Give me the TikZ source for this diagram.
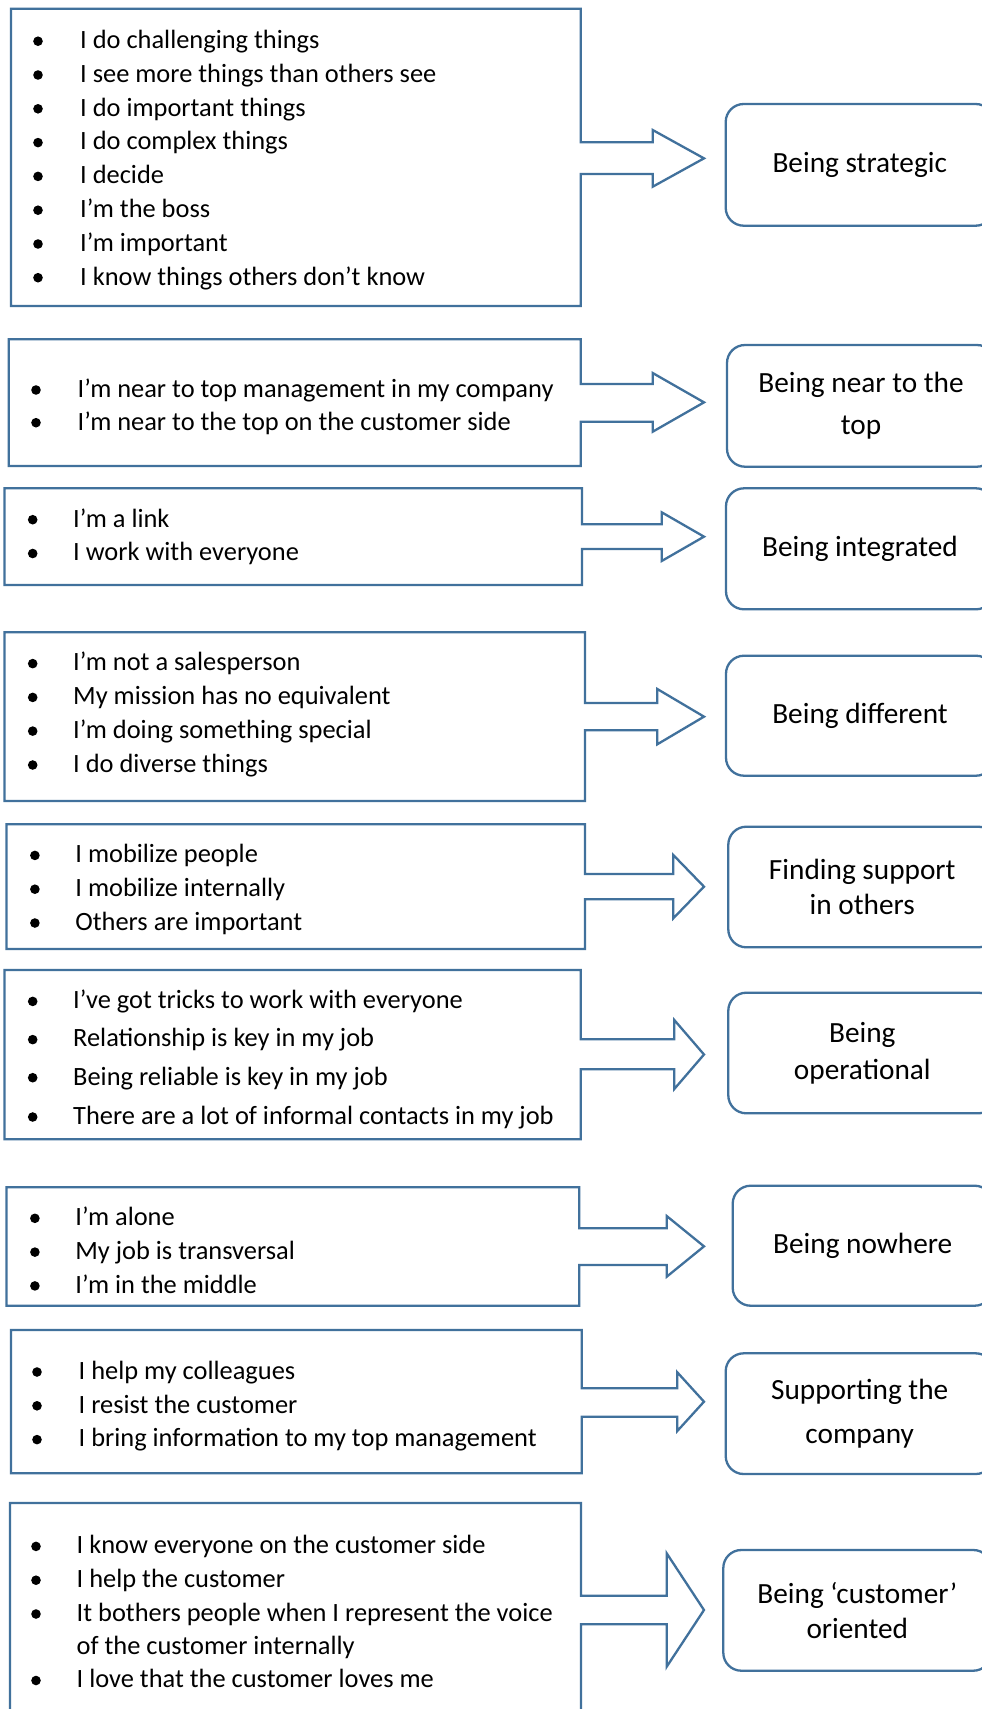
\documentclass[tikz,border=0pt]{standalone}
\usepackage{fontspec}
\setmainfont{Carlito}
\definecolor{frame}{RGB}{65,113,156}
\tikzset{
  callout/.style={draw=frame, line width=2.3pt, line join=miter},
  resultbox/.style={draw=frame, line width=2.3pt, rounded corners=18pt, minimum width=268pt, align=center, inner sep=0pt},
  itemtext/.style={anchor=base west, inner sep=0pt, font=\fontsize{26.4}{33.8}\selectfont},
  dot/.style={fill=black, circle, inner sep=0pt, minimum size=9.6pt},
}
% L T R B shaftTop shaftBottom headBaseX headTop headBottom ; tip at x=704, y=(headTop+headBottom)/2
\newcommand\calloutshape[9]{%
  \draw[callout] (#1,#2) -- (#3,#2) -- (#3,#5) -- (#7,#5) -- (#7,#8) -- (704,{(#8+#9)/2}) -- (#7,#9) -- (#7,#6) -- (#3,#6) -- (#3,#4) -- (#1,#4) -- cycle;}
\newcommand\itm[5]{%
  \node[dot] (#1b) at (#2,#4+2) {};
  \node[itemtext] (#1) at (#3,#4+9.3) {#5};}
\begin{document}
\begin{tikzpicture}[x=1pt,y=-1pt]
\useasboundingbox (0,0) rectangle (982,1709);
\fill[white] (0,0) rectangle (982,1709);
\clip (0,0) rectangle (982,1709);

% ---- 1
\calloutshape{10.9}{8.7}{580.7}{306}{142.3}{174}{652.7}{130}{186.7}
\itm{a1}{38}{80}{39.2}{I do challenging things}
\itm{a2}{38}{80}{73}{I see more things than others see}
\itm{a3}{38}{80}{106.8}{I do important things}
\itm{a4}{38}{80}{140.6}{I do complex things}
\itm{a5}{38}{80}{174.4}{I decide}
\itm{a6}{38}{80}{208.2}{I’m the boss}
\itm{a7}{38}{80}{242}{I’m important}
\itm{a8}{38}{80}{275.7}{I know things others don’t know}
\node[resultbox, minimum height=121.7pt, font=\fontsize{29.3}{36}\selectfont] (r1) at (859.7,164.85) {Being strategic};

% ---- 2
\calloutshape{8.7}{339.3}{580.7}{466}{384}{421.7}{652.7}{373}{431.7}
\itm{b1}{36}{77.4}{388}{I’m near to top management in my company}
\itm{b2}{36}{77.4}{420.7}{I’m near to the top on the customer side}
\node[resultbox, minimum height=121.7pt, font=\fontsize{29.3}{42.5}\selectfont] (r2) at (861,405.85) {Being near to the\\top};

% ---- 3
\calloutshape{4.4}{488.3}{582}{585}{524.3}{549}{661.7}{512.3}{561}
\itm{c1}{32.7}{73}{517.7}{I’m a link}
\itm{c2}{32.7}{73}{551.5}{I work with everyone}
\node[resultbox, minimum height=121pt, font=\fontsize{29.3}{36}\selectfont] (r3) at (860,548.8) {Being integrated};

% ---- 4
\calloutshape{4.4}{632.3}{585}{801}{703}{730.3}{657.3}{689}{744.3}
\itm{d1}{32.7}{73}{661.6}{I’m not a salesperson}
\itm{d2}{32.7}{73}{695.4}{My mission has no equivalent}
\itm{d3}{32.7}{73}{729.1}{I’m doing something special}
\itm{d4}{32.7}{73}{763}{I do diverse things}
\node[resultbox, minimum height=120pt, font=\fontsize{29.3}{36}\selectfont] (r4) at (860,715.7) {Being different};

% ---- 5
\calloutshape{6.5}{824.3}{585}{949}{874}{899.3}{673.3}{855}{918.3}
\itm{e1}{34.9}{75.2}{853.4}{I mobilize people}
\itm{e2}{34.9}{75.2}{887.2}{I mobilize internally}
\itm{e3}{34.9}{75.2}{921}{Others are important}
\node[resultbox, minimum height=120.6pt, font=\fontsize{29.3}{35.3}\selectfont] (r5) at (862.3,887) {Finding support\\in others};

% ---- 6
\calloutshape{4.4}{970}{580.7}{1139.3}{1039.3}{1069.3}{674.3}{1020}{1089}
\itm{f1}{32.7}{73}{999.4}{I’ve got tricks to work with everyone}
\itm{f2}{32.7}{73}{1037.6}{Relationship is key in my job}
\itm{f3}{32.7}{73}{1075.7}{Being reliable is key in my job}
\itm{f4}{32.7}{73}{1115}{There are a lot of informal contacts in my job}
\node[resultbox, minimum height=120.6pt, font=\fontsize{29.3}{36.7}\selectfont] (r6) at (862.3,1053) {Being\\operational};

% ---- 7
\calloutshape{6.5}{1187.3}{579.3}{1305.7}{1228.3}{1265}{666.7}{1216}{1276.7}
\itm{g1}{34.9}{75.2}{1216.3}{I’m alone}
\itm{g2}{34.9}{75.2}{1250.1}{My job is transversal}
\itm{g3}{34.9}{75.2}{1283.9}{I’m in the middle}
\node[resultbox, minimum width=260pt, minimum height=120pt, font=\fontsize{29.3}{36}\selectfont] (r7) at (862.7,1245.7) {Being nowhere};

% ---- 8
\calloutshape{10.9}{1330}{581.7}{1473.3}{1388.3}{1416.7}{677.3}{1372.3}{1431}
\itm{h1}{37}{78.5}{1370}{I help my colleagues}
\itm{h2}{37}{78.5}{1403.8}{I resist the customer}
\itm{h3}{37}{78.5}{1437.6}{I bring information to my top management}
\node[resultbox, minimum height=120.7pt, font=\fontsize{29.3}{43.3}\selectfont] (r8) at (859.7,1413.65) {Supporting the\\company};

% ---- 9
\calloutshape{10}{1503}{581}{1730}{1595.7}{1624.3}{666.7}{1553.3}{1666.7}
\itm{i1}{36}{76.5}{1544.4}{I know everyone on the customer side}
\itm{i2}{36}{76.5}{1578.2}{I help the customer}
\itm{i3}{36}{76.5}{1612}{It bothers people when I represent the voice}
\node[itemtext] (i3x) at (76.5,1644.7+9.3) {of the customer internally};
\itm{i4}{36}{76.5}{1678.5}{I love that the customer loves me}
\node[resultbox, minimum height=120.7pt, font=\fontsize{29.3}{35}\selectfont] (r9) at (857.3,1610.35) {Being ‘customer’\\oriented};
\end{tikzpicture}
\end{document}
